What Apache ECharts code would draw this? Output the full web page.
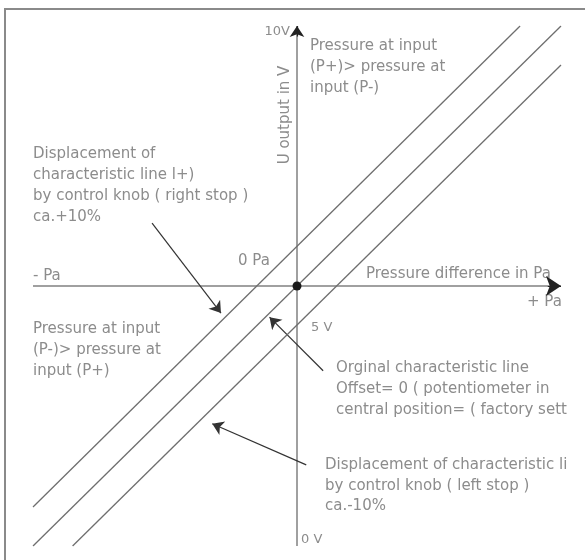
<!DOCTYPE html>
<html>
<head>
<meta charset="utf-8">
<script src="https://cdn.jsdelivr.net/npm/echarts@6/dist/echarts.min.js"></script>
<style>
  html, body { margin: 0; padding: 0; background: #fff; }
  #chart { width: 588px; height: 560px; }
</style>
</head>
<body>
<div id="chart"></div>
<script>
// pressure difference in % of range (x), output in V (y)
const origLine = [[-100, 0], [100, 10]]
const plusLine = [[-100, 0.75], [84.5, 10]]
const minusLine = [[-85, 0], [100, 9.25]]
const zeroPoint = [[0, 5]]

// axes of the diagram (line + dark arrow head at the end)
const pressureAxis = [[-100, 5], [100, 5]]
const pressureArrow = [[95, 5], [100, 5]]
const voltageAxis = [[0, 0], [0, 10]]
const voltageArrow = [[0, 9.8], [0, 10]]

// leader arrows: [from text, to line]
const leaderPlus = [[-54.9, 6.21], [-28.8, 4.48]]
const leaderOrig = [[9.9, 3.37], [-10.4, 4.4]]
const leaderMinus = [[3.5, 1.56], [-32.1, 2.35]]

const textGray = '#8c8c8c'
const font = '15px "DejaVu Sans"'
const smallFont = '13px "DejaVu Sans"'

function label (text, x, y, extra) {
  return {
    type: 'text',
    x: x,
    y: y,
    silent: true,
    style: Object.assign({
      text: text,
      font: font,
      fill: textGray,
      verticalAlign: 'middle'
    }, extra || {})
  }
}

function block (lines, x, y, extra) {
  return label(lines.join('\n'), x, y, Object.assign({
    verticalAlign: 'top',
    lineHeight: 21
  }, extra || {}))
}

function arrowLine (coords, color, size, width) {
  return {
    type: 'lines',
    coordinateSystem: 'cartesian2d',
    silent: true,
    symbol: ['none', size ? 'arrow' : 'none'],
    symbolSize: size || 0,
    lineStyle: { color: color, width: width || 1.2, opacity: 1 },
    data: [{ coords: coords }]
  }
}

function charLine (data) {
  return {
    type: 'line',
    data: data,
    symbol: 'none',
    silent: true,
    lineStyle: { color: '#6e6e6e', width: 1.3 }
  }
}

const chart = echarts.init(document.getElementById('chart'))
chart.setOption({
  animation: false,
  grid: { left: 33, right: 27, top: 26, bottom: 14 },
  xAxis: { type: 'value', min: -100, max: 100, show: false },
  yAxis: { type: 'value', min: 0, max: 10, show: false },
  graphic: [
    // frame
    { type: 'line', shape: { x1: 4, y1: 9, x2: 585, y2: 9 }, style: { stroke: '#8a8a8a', lineWidth: 2 } },
    { type: 'line', shape: { x1: 5, y1: 9, x2: 5, y2: 560 }, style: { stroke: '#8a8a8a', lineWidth: 2 } },

    label('10V', 290, 32, { textAlign: 'right', font: smallFont }),
    Object.assign(label('U output in V', 285, 115, { textAlign: 'center' }), { rotation: Math.PI / 2 }),
    label('0 V', 301, 540, { font: smallFont }),
    label('5 V', 311, 328, { font: smallFont }),
    label('0 Pa', 238, 261),
    label('- Pa', 33, 276),
    label('+ Pa', 527, 302),
    label('Pressure difference in Pa', 366, 274),

    block(['Pressure at input', '(P+)> pressure at', 'input (P-)'], 310, 36),
    block(['Displacement of', 'characteristic line l+)', 'by control knob ( right stop )', 'ca.+10%'], 33, 144),
    block(['Pressure at input', '(P-)> pressure at', 'input (P+)'], 33, 319),
    block(['Orginal characteristic line', 'Offset= 0 ( potentiometer in', 'central position= ( factory setting )'], 336, 358,
      { width: 236, overflow: 'truncate', ellipsis: '' }),
    block(['Displacement of characteristic line', 'by control knob ( left stop )', 'ca.-10%'], 325, 455,
      { width: 247, overflow: 'truncate', ellipsis: '', lineHeight: 20.5 })
  ],
  series: [
    charLine(plusLine),
    charLine(origLine),
    charLine(minusLine),
    arrowLine(pressureAxis, '#808080', 0, 1.5),
    arrowLine(voltageAxis, '#808080', 0, 1.5),
    arrowLine(pressureArrow, '#222', [8, 15]),
    arrowLine(voltageArrow, '#222', [7, 11]),
    arrowLine(leaderPlus, '#333', [6, 11]),
    arrowLine(leaderOrig, '#333', [6, 11]),
    arrowLine(leaderMinus, '#333', [6, 11]),
    {
      type: 'scatter',
      data: zeroPoint,
      symbolSize: 9,
      silent: true,
      z: 5,
      itemStyle: { color: '#1a1a1a', opacity: 1 }
    }
  ]
})
</script>
</body>
</html>
